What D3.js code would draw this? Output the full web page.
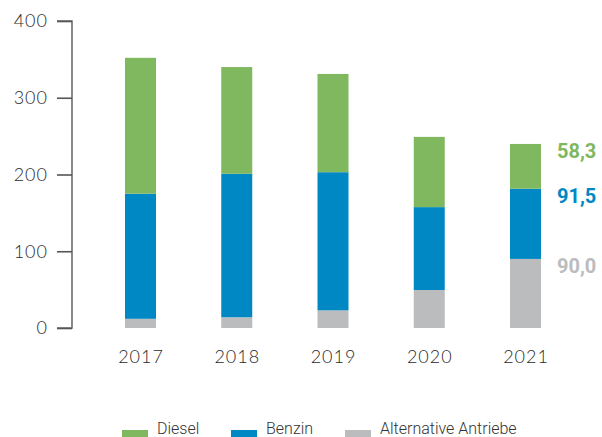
<!DOCTYPE html>
<html>
<head>
<meta charset="utf-8">
<script src="https://cdn.jsdelivr.net/npm/d3@7"></script>
<style>
  html, body { margin: 0; padding: 0; background: #fff; }
  svg { display: block; }
</style>
</head>
<body>
<svg id="chart" width="602" height="437"></svg>
<script>
const years = ["2017", "2018", "2019", "2020", "2021"];
const alternative = [12, 14, 23, 49.5, 90.0];
const benzin = [163, 187, 180, 108, 91.5];
const diesel = [177, 139, 128, 91.5, 58.3];
const yTicks = [0, 100, 200, 300, 400];
const seriesNames = ["Diesel", "Benzin", "Alternative Antriebe"];
const lastLabels = ["58,3", "91,5", "90,0"];

const colors = { "Diesel": "#7fb85f", "Benzin": "#0088c4", "Alternative Antriebe": "#bbbcbe" };

const svg = d3.select("#chart");

const x = d3.scalePoint().domain(years).range([140.5, 525.5]);
const y = d3.scaleLinear().domain([0, 400]).range([328, 21]);
const barW = 31;

const rows = years.map((yr, i) => ({
  year: yr,
  "Alternative Antriebe": alternative[i],
  "Benzin": benzin[i],
  "Diesel": diesel[i]
}));

const stack = d3.stack().keys(["Alternative Antriebe", "Benzin", "Diesel"]);
const layers = stack(rows);

svg.append("g").selectAll("g")
  .data(layers)
  .join("g")
  .attr("fill", d => colors[d.key])
  .selectAll("rect")
  .data(d => d)
  .join("rect")
  .attr("x", d => x(d.data.year) - barW / 2)
  .attr("width", barW)
  .attr("y", d => y(d[1]))
  .attr("height", d => y(d[0]) - y(d[1]));

// Y axis
const yAxis = d3.axisLeft(y).tickValues(yTicks).tickSize(15).tickPadding(9).tickFormat(d3.format("d"));
const gy = svg.append("g").attr("transform", "translate(72,0)").call(yAxis);
gy.select(".domain").attr("stroke", "#6e6e6e").attr("stroke-width", 1.6).attr("d", `M-15,${y(400)}H0V${y(0)}H-15`);
gy.selectAll(".tick line").attr("stroke", "#555").attr("stroke-width", 1.6);
gy.selectAll(".tick text")
  .attr("fill", "#2a2a2a")
  .style("font-family", "Lato, 'Open Sans', sans-serif")
  .style("font-weight", "300")
  .style("font-size", "18px")
  .style("letter-spacing", "1px");

// X labels
const xAxis = d3.axisBottom(x).tickSize(0).tickPadding(0);
const gx = svg.append("g").attr("transform", "translate(0,350)").call(xAxis);
gx.select(".domain").remove();
gx.selectAll(".tick text")
  .attr("fill", "#2a2a2a")
  .attr("dy", "0.71em")
  .style("font-family", "Lato, 'Open Sans', sans-serif")
  .style("font-weight", "300")
  .style("font-size", "18px")
  .style("letter-spacing", "1px");

// Value labels for last year
const last = layers.map(l => l[l.length - 1]);
const labelData = [
  { name: "Diesel", top: last[2][1], text: lastLabels[0] },
  { name: "Benzin", top: last[1][1], text: lastLabels[1] },
  { name: "Alternative Antriebe", top: last[0][1], text: lastLabels[2] }
];
svg.append("g").selectAll("text")
  .data(labelData)
  .join("text")
  .attr("x", x(years[years.length - 1]) + barW / 2 + 16)
  .attr("y", d => y(d.top) + 9)
  .attr("dominant-baseline", "middle")
  .attr("fill", d => colors[d.name])
  .style("font-family", "Roboto, sans-serif")
  .style("font-weight", "700")
  .style("font-size", "20px")
  .text(d => d.text);

// Legend
const legendX = [122, 231, 345];
const lg = svg.append("g").selectAll("g")
  .data(seriesNames)
  .join("g")
  .attr("transform", (d, i) => `translate(${legendX[i]},0)`);
lg.append("rect")
  .attr("x", 0).attr("y", 430).attr("width", 26).attr("height", 7)
  .attr("fill", d => colors[d]);
lg.append("text")
  .attr("x", 35).attr("y", 434)
  .attr("fill", "#333")
  .style("font-family", "Roboto, sans-serif")
  .style("font-weight", "300")
  .style("font-size", "16px")
  .text(d => d);
</script>
</body>
</html>
